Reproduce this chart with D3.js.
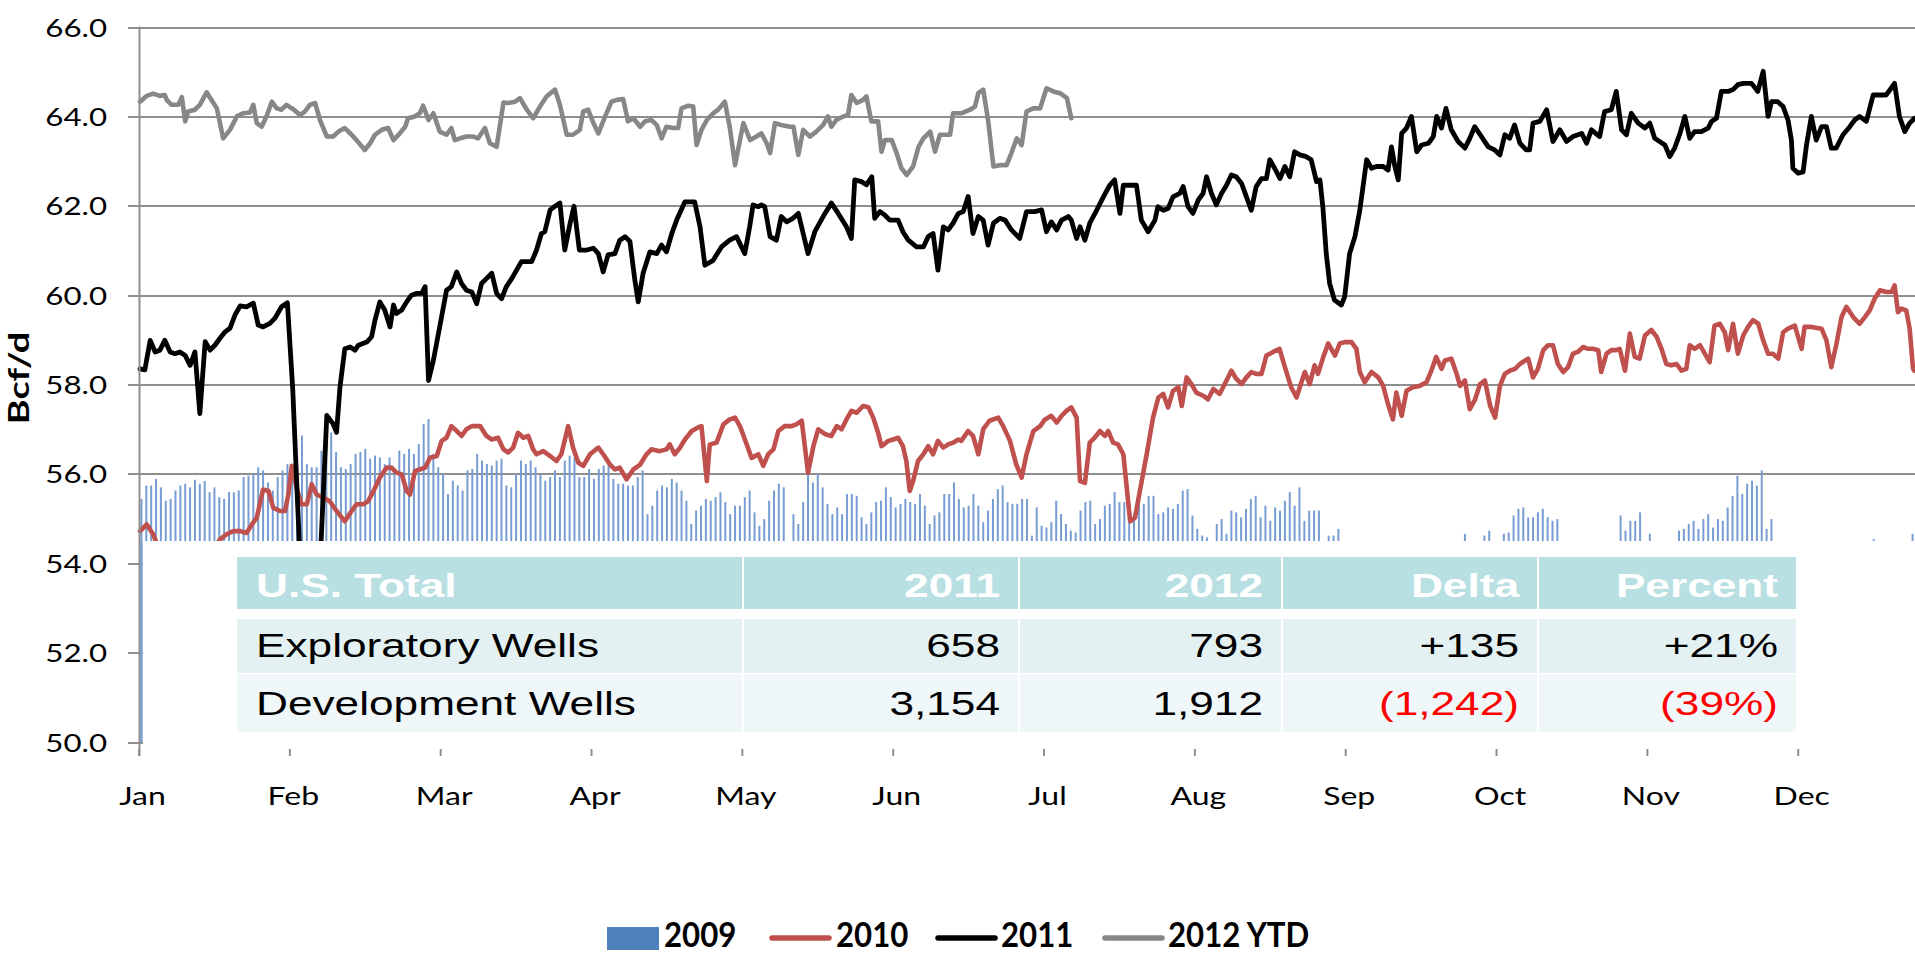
<!DOCTYPE html>
<html>
<head>
<meta charset="utf-8">
<script src="https://cdn.jsdelivr.net/npm/d3@7"></script>
<style>
html,body{margin:0;padding:0;background:#fff;overflow:hidden}
svg{display:block}
</style>
</head>
<body>
<script>
// ---------------- DATA ----------------
const months = ["Jan","Feb","Mar","Apr","May","Jun","Jul","Aug","Sep","Oct","Nov","Dec"];
const monthStartDays = [0,31,62,93,124,155,186,217,248,279,310,341];
const yTickValues = [50,52,54,56,58,60,62,64,66];
const yTickLabels = ["50.0","52.0","54.0","56.0","58.0","60.0","62.0","64.0","66.0"];
const seriesNames = ["2009","2010","2011","2012 YTD"];

// 2009 daily columns (null = no visible column)
const s2009 = [
55.45,55.75,55.75,55.90,55.71,55.41,55.45,55.64,55.75,55.79,
55.71,55.88,55.79,55.85,55.60,55.71,55.49,55.45,55.60,55.60,
55.64,55.94,55.97,56.01,56.16,56.09,55.82,55.64,55.94,56.09,
56.23,56.20,56.09,56.87,56.23,56.16,56.16,56.53,56.91,56.94,
56.50,56.16,56.12,56.23,56.46,56.50,56.57,56.35,56.42,56.38,
56.23,56.38,56.12,56.53,56.46,56.57,56.46,56.68,57.13,57.24,
56.46,56.16,56.01,55.56,55.86,55.75,55.64,56.09,56.12,56.46,
56.31,56.23,56.20,56.31,56.35,55.75,55.71,56.01,56.31,56.23,
56.31,56.16,56.01,55.86,55.94,56.09,55.94,56.31,56.42,56.38,
55.94,55.94,56.12,55.90,56.12,56.20,56.27,55.90,55.79,55.79,
55.75,55.75,55.94,56.09,55.11,55.30,55.64,55.75,55.71,55.90,
55.82,55.64,55.41,54.89,55.19,55.30,55.45,55.41,55.49,55.60,
55.38,55.11,55.30,55.30,55.49,55.64,55.15,54.85,55.00,55.41,
55.64,55.79,55.71,null,55.11,54.89,55.38,56.01,55.82,56.01,
55.71,55.34,55.11,55.26,55.11,55.56,55.56,55.52,55.04,54.89,
55.15,55.38,55.41,55.71,55.49,55.26,55.34,55.45,55.38,55.34,
55.56,55.30,54.89,55.08,55.15,55.56,55.56,55.82,55.45,55.26,
55.30,55.56,55.30,54.93,55.19,55.45,55.67,55.75,55.38,55.34,
55.34,55.45,55.45,54.63,55.26,54.85,54.81,54.93,55.41,55.11,
54.89,54.74,54.70,55.19,55.38,55.41,54.89,55.00,55.30,55.34,
55.60,55.38,55.38,54.96,55.11,55.41,55.34,55.52,55.52,55.11,
55.15,55.26,55.23,55.34,55.64,55.67,55.08,54.78,54.63,54.59,
null,54.89,55.00,54.67,55.19,55.15,55.04,55.23,55.45,55.52,
55.04,55.30,54.96,55.26,55.19,55.41,55.60,55.30,55.71,54.96,
55.19,55.19,55.19,null,54.63,54.63,54.78,null,null,null,
null,null,null,null,null,null,null,null,null,null,
null,null,null,null,null,null,null,null,null,null,
null,null,54.67,null,null,null,54.63,54.74,null,null,
54.67,54.70,55.08,55.23,55.26,55.04,55.04,55.15,55.23,55.04,
54.96,55.00,null,null,null,null,null,null,null,null,
null,null,null,null,55.08,54.74,54.96,54.96,55.15,null,
54.67,null,null,null,null,null,54.74,54.78,54.89,54.96,
54.78,55.00,55.11,54.81,55.00,54.96,55.26,55.52,55.97,55.56,
55.79,55.86,55.75,56.09,54.78,55.00,null,null,null,null,
null,null,null,null,null,null,null,null,null,null,
null,null,null,null,null,null,54.55,null,null,null,
null,null,null,null,54.67
];

// 2010 [day of year, Bcf/d]
const s2010 = [[0.2,54.73],[1.6,54.88],[2.9,54.66],[3.6,54.47],[7,53.9],[13,53.9],[16.6,54.54],[18.0,54.66],[19.4,54.73],[20.8,54.73],[22.1,54.69],[23.2,54.88],[24.2,55.03],[25.5,55.66],[26.6,55.63],[27.6,55.25],[29.0,55.18],[30.0,55.18],[30.7,55.55],[31.4,56.19],[32.4,55.70],[33.4,55.33],[34.5,55.33],[35.5,55.78],[36.5,55.55],[37.9,55.48],[39.2,55.40],[40.6,55.18],[42.3,54.95],[43.7,55.18],[44.7,55.33],[46.1,55.33],[47.1,55.40],[48.2,55.63],[49.5,55.93],[50.9,56.15],[51.9,56.15],[52.9,56.04],[54.0,56.00],[55.0,55.63],[55.7,55.55],[56.7,56.07],[57.7,56.11],[58.8,56.15],[59.8,56.37],[61.2,56.41],[62.2,56.75],[63.2,56.82],[64.2,57.08],[65.3,56.97],[66.3,56.86],[67.3,57.01],[68.4,57.08],[70.1,57.08],[71.4,56.86],[72.5,56.78],[73.8,56.82],[74.9,56.56],[75.9,56.49],[76.9,56.60],[77.9,56.93],[79.0,56.82],[80.0,56.86],[81.0,56.56],[81.7,56.45],[83.1,56.52],[84.5,56.41],[85.8,56.30],[86.8,56.45],[88.2,57.08],[89.2,56.60],[90.3,56.26],[91.3,56.19],[92.7,56.45],[94.4,56.60],[95.4,56.45],[96.8,56.22],[97.8,56.11],[98.8,56.15],[100.2,55.89],[101.6,56.11],[103.0,56.22],[104.3,56.45],[105.3,56.56],[107.0,56.52],[108.4,56.56],[109.1,56.67],[110.1,56.45],[111.2,56.60],[112.2,56.78],[113.6,56.97],[114.9,57.05],[115.6,57.08],[116.7,55.85],[117.3,56.67],[118.7,56.71],[120.1,57.12],[121.4,57.23],[122.5,57.27],[123.5,57.08],[124.9,56.67],[125.9,56.37],[127.3,56.45],[128.3,56.19],[129.3,56.45],[130.4,56.56],[131.4,56.97],[132.7,57.08],[134.1,57.08],[135.1,57.12],[136.2,57.20],[137.5,56.04],[138.6,56.63],[139.6,57.01],[141.0,56.90],[142.3,56.86],[143.4,57.08],[144.4,57.01],[145.4,57.23],[146.4,57.42],[147.5,57.38],[148.8,57.53],[149.9,57.50],[150.9,57.27],[151.9,56.93],[152.6,56.63],[154.0,56.75],[155.0,56.78],[156.0,56.82],[157.0,56.63],[157.7,56.30],[158.4,55.63],[159.1,55.85],[160.1,56.30],[161.2,56.45],[162.2,56.63],[163.2,56.45],[164.2,56.75],[165.3,56.60],[166.3,56.67],[167.3,56.71],[168.4,56.78],[169.0,56.75],[170.4,56.97],[171.4,56.86],[172.5,56.45],[173.5,57.01],[174.8,57.20],[176.6,57.27],[177.6,57.08],[179.0,56.75],[180.3,56.22],[181.4,55.93],[182.4,56.45],[183.8,56.97],[185.2,57.08],[186.2,57.23],[187.5,57.31],[188.6,57.16],[189.6,57.31],[190.6,57.42],[191.6,57.50],[192.7,57.27],[193.4,55.85],[194.4,55.81],[195.4,56.71],[196.4,56.82],[197.5,56.97],[198.5,56.86],[199.2,56.97],[200.2,56.71],[201.2,56.67],[202.3,56.45],[203.0,55.70],[203.7,54.95],[204.7,55.03],[205.7,55.63],[207.1,56.45],[208.4,57.27],[209.5,57.72],[210.5,57.80],[211.5,57.50],[212.5,57.87],[213.6,57.95],[214.3,57.53],[215.3,58.17],[216.3,58.02],[217.3,57.83],[218.7,57.76],[219.7,57.68],[220.8,57.91],[222.1,57.80],[223.5,58.10],[224.5,58.32],[225.5,58.14],[226.6,58.02],[227.6,58.17],[228.6,58.29],[229.6,58.25],[230.7,58.25],[231.7,58.66],[233.1,58.74],[234.4,58.81],[235.5,58.40],[236.8,57.95],[237.9,57.72],[238.9,58.06],[239.6,58.29],[240.6,58.02],[241.6,58.44],[242.3,58.25],[243.4,58.63],[244.4,58.93],[245.8,58.66],[246.8,58.93],[247.8,58.96],[249.2,58.96],[250.2,58.81],[250.9,58.29],[251.9,58.06],[253.3,58.29],[254.7,58.17],[255.7,57.98],[256.7,57.57],[257.7,57.23],[258.4,57.83],[259.5,57.31],[260.5,57.87],[261.8,57.95],[263.2,57.98],[264.6,58.06],[265.6,58.32],[266.6,58.63],[267.7,58.36],[268.4,58.55],[269.7,58.59],[270.8,58.25],[271.5,57.98],[272.5,58.10],[273.5,57.46],[274.6,57.68],[275.6,58.02],[276.6,58.10],[277.7,57.53],[278.7,57.27],[279.7,57.98],[280.7,58.25],[281.7,58.32],[282.8,58.36],[283.8,58.47],[285.5,58.59],[286.5,58.17],[287.5,58.36],[288.6,58.78],[289.6,58.89],[290.6,58.89],[291.6,58.47],[292.7,58.29],[293.7,58.40],[294.7,58.70],[295.7,58.74],[296.8,58.85],[297.8,58.81],[298.8,58.81],[299.9,58.78],[300.5,58.29],[301.6,58.70],[302.6,58.78],[303.6,58.78],[304.3,58.81],[305.4,58.32],[306.4,59.15],[307.4,58.63],[308.4,58.59],[309.5,59.11],[310.8,59.23],[311.9,59.08],[312.9,58.81],[313.9,58.47],[314.9,58.44],[316.0,58.47],[317.0,58.32],[318.0,58.36],[318.7,58.89],[319.7,58.81],[320.8,58.89],[321.8,58.70],[322.8,58.51],[323.8,59.33],[324.9,59.37],[325.9,59.18],[326.6,58.78],[327.6,59.37],[328.6,58.70],[329.7,59.11],[330.7,59.30],[331.7,59.45],[332.8,59.37],[333.8,59.00],[334.8,58.70],[335.8,58.70],[336.9,58.59],[337.9,59.18],[338.9,59.26],[340.3,59.33],[341.7,58.81],[342.3,59.30],[343.7,59.30],[345.8,59.26],[346.8,59.00],[347.8,58.40],[348.8,58.89],[349.9,59.52],[350.9,59.75],[352.3,59.52],[353.6,59.37],[354.7,59.52],[355.7,59.67],[356.7,59.93],[357.8,60.12],[359.1,60.08],[360.2,60.08],[360.8,60.23],[361.5,59.63],[362.2,59.71],[363.2,59.67],[363.9,59.26],[364.6,58.36],[364.9,58.32]];

// 2011 [day of year, Bcf/d]
const s2011 = [[0.2,58.36],[1.2,58.34],[2.3,59.00],[3.3,58.74],[4.3,58.78],[5.3,59.00],[6.4,58.74],[7.4,58.70],[8.4,58.74],[9.5,58.66],[10.5,58.44],[11.5,58.74],[12.5,57.36],[13.6,58.97],[14.6,58.78],[15.6,58.89],[16.6,59.04],[17.7,59.19],[18.7,59.27],[19.7,59.56],[20.8,59.77],[22.1,59.75],[23.5,59.83],[24.5,59.34],[25.5,59.30],[26.9,59.38],[27.9,59.49],[29.3,59.75],[30.5,59.84],[31.6,57.9],[33.2,53.8],[34.5,51.0],[36.0,51.3],[37.3,54.2],[38.6,57.32],[39.9,57.13],[40.6,56.94],[41.3,57.95],[42.3,58.81],[43.4,58.85],[44.4,58.78],[45.1,58.89],[46.8,58.96],[47.8,59.08],[48.5,59.45],[49.5,59.86],[50.5,59.68],[51.6,59.30],[52.3,59.79],[52.9,59.60],[54.0,59.68],[55.0,59.86],[56.0,60.01],[57.1,60.05],[58.1,60.05],[58.8,60.20],[59.5,58.10],[60.5,58.55],[61.8,59.30],[63.2,60.12],[64.2,60.20],[65.3,60.53],[66.3,60.27],[67.3,60.12],[68.4,60.08],[69.4,59.82],[70.4,60.27],[71.4,60.38],[72.5,60.50],[73.5,60.05],[74.5,59.93],[75.5,60.20],[76.6,60.38],[77.6,60.57],[78.6,60.76],[80.7,60.76],[81.7,61.02],[82.7,61.39],[83.4,61.43],[84.5,61.92],[85.5,62.00],[86.5,62.07],[87.5,61.02],[88.6,61.62],[89.4,62.00],[90.5,61.02],[92.0,61.02],[93.4,61.06],[94.4,60.94],[95.4,60.53],[96.4,60.91],[97.8,60.94],[98.8,61.24],[99.9,61.32],[100.9,61.21],[101.9,60.35],[102.6,59.86],[103.6,60.50],[105.0,60.98],[106.4,60.94],[107.4,61.13],[108.4,60.98],[109.5,61.39],[110.5,61.69],[112.2,62.10],[114.2,62.10],[115.3,61.54],[116.3,60.68],[118.0,60.79],[119.7,61.09],[121.4,61.24],[122.8,61.32],[124.5,60.94],[125.5,61.54],[126.2,62.03],[127.3,61.99],[127.9,62.03],[128.6,61.99],[129.7,61.32],[131.0,61.24],[132.0,61.77],[133.1,61.65],[134.4,61.73],[135.5,61.84],[136.5,61.39],[137.5,60.94],[138.9,61.43],[140.6,61.77],[142.3,62.07],[143.7,61.84],[145.4,61.54],[146.4,61.28],[147.1,62.59],[148.5,62.55],[149.5,62.48],[150.6,62.66],[151.2,61.73],[152.3,61.88],[153.3,61.80],[154.3,61.69],[156.0,61.69],[157.0,61.43],[158.1,61.24],[159.8,61.09],[161.2,61.09],[162.2,61.32],[163.2,61.39],[164.2,60.57],[165.3,61.54],[166.3,61.47],[167.3,61.62],[168.4,61.84],[169.4,61.88],[170.4,62.22],[171.4,61.39],[172.5,61.77],[173.5,61.69],[174.5,61.13],[175.6,61.62],[176.9,61.73],[178.0,61.69],[179.3,61.47],[181.0,61.28],[182.4,61.88],[184.1,61.88],[185.5,61.92],[186.5,61.43],[187.5,61.65],[188.6,61.47],[189.6,61.69],[191.0,61.77],[191.6,61.69],[192.7,61.28],[193.4,61.54],[194.4,61.24],[195.4,61.62],[196.8,61.91],[198.2,62.21],[199.5,62.47],[200.5,62.59],[201.6,61.84],[202.3,62.47],[203.6,62.47],[205.0,62.47],[206.0,61.69],[207.4,61.43],[208.8,61.69],[209.4,61.99],[210.5,61.91],[211.5,61.95],[212.5,62.21],[213.9,62.29],[214.6,62.44],[215.6,61.99],[216.6,61.84],[217.7,62.14],[218.7,62.29],[219.4,62.66],[220.4,62.29],[221.4,62.03],[222.5,62.29],[223.5,62.47],[224.5,62.70],[225.5,62.66],[226.6,62.51],[227.6,62.21],[228.6,61.91],[229.6,62.44],[230.7,62.62],[231.7,62.62],[232.4,63.04],[233.4,62.85],[234.5,62.62],[235.5,62.89],[236.5,62.66],[237.5,63.22],[238.6,63.15],[239.9,63.11],[240.9,63.04],[242.0,62.55],[242.7,62.59],[243.3,61.99],[244.0,60.94],[244.7,60.27],[245.7,59.90],[247.1,59.79],[247.8,59.98],[248.8,60.94],[249.9,61.32],[250.9,61.91],[252.3,63.04],[253.3,62.85],[254.3,62.89],[255.7,62.89],[256.7,62.81],[257.4,63.33],[258.1,62.89],[258.8,62.59],[259.5,63.63],[260.5,63.75],[261.5,64.01],[262.6,63.22],[263.6,63.37],[265.0,63.41],[266.0,63.56],[266.7,64.01],[267.7,63.75],[268.6,64.19],[269.7,63.71],[271.1,63.45],[272.5,63.30],[273.5,63.52],[274.5,63.78],[275.9,63.56],[277.3,63.33],[278.6,63.26],[279.7,63.15],[280.7,63.60],[281.7,63.52],[282.7,63.82],[283.8,63.41],[285.1,63.26],[285.8,63.26],[286.5,63.86],[287.9,63.90],[289.3,64.16],[290.6,63.45],[292.0,63.71],[293.4,63.45],[294.7,63.56],[296.5,63.63],[297.5,63.41],[298.5,63.71],[300.2,63.56],[301.2,64.12],[302.6,64.16],[303.6,64.57],[304.7,63.71],[305.7,63.60],[306.7,64.08],[308.1,63.86],[309.5,63.75],[310.5,63.86],[311.5,63.52],[312.5,63.45],[313.6,63.37],[314.6,63.11],[315.6,63.30],[316.7,63.63],[317.7,64.01],[318.7,63.52],[319.7,63.67],[321.1,63.67],[322.5,63.75],[323.2,63.90],[324.2,63.97],[325.2,64.57],[326.6,64.57],[327.6,64.61],[328.6,64.72],[329.7,64.75],[331.4,64.75],[332.7,64.57],[333.8,65.02],[334.8,64.01],[335.5,64.34],[336.8,64.34],[337.9,64.23],[338.9,63.93],[339.6,63.48],[339.9,62.85],[341.0,62.74],[342.0,62.77],[342.7,63.37],[343.7,64.01],[344.7,63.48],[345.8,63.78],[346.8,63.78],[347.8,63.30],[348.8,63.30],[350.2,63.60],[351.6,63.78],[352.6,63.93],[353.6,64.01],[355.0,63.90],[356.4,64.49],[357.7,64.49],[359.1,64.49],[360.8,64.75],[361.8,64.01],[362.9,63.67],[363.9,63.86],[364.9,63.97]];

// 2012 YTD [day of year, Bcf/d]
const s2012 = [[0.2,64.34],[1.6,64.47],[2.9,64.52],[4.3,64.47],[5.3,64.49],[5.7,64.38],[6.7,64.27],[8.1,64.27],[8.8,64.44],[9.5,63.90],[10.1,64.12],[11.5,64.16],[12.5,64.27],[13.9,64.55],[14.9,64.38],[16.0,64.19],[17.3,63.52],[18.7,63.71],[20.1,64.01],[21.4,64.08],[22.8,64.10],[23.5,64.27],[24.2,63.86],[25.2,63.78],[26.2,64.01],[27.3,64.34],[28.3,64.19],[29.3,64.16],[30.3,64.27],[31.7,64.17],[33.1,64.04],[34.1,64.12],[35.1,64.27],[36.2,64.31],[37.2,63.93],[38.6,63.56],[39.9,63.56],[41.0,63.67],[42.3,63.75],[43.7,63.60],[44.7,63.48],[46.4,63.26],[47.5,63.41],[48.5,63.60],[49.9,63.71],[51.2,63.75],[52.3,63.48],[53.6,63.63],[54.7,63.78],[55.3,63.97],[56.7,64.01],[57.7,64.08],[58.4,64.25],[59.5,63.93],[60.5,64.08],[61.8,63.67],[63.2,63.60],[64.2,63.75],[64.9,63.48],[66.0,63.52],[67.3,63.56],[68.7,63.56],[69.7,63.52],[71.1,63.75],[72.1,63.41],[73.5,63.33],[74.9,64.32],[75.9,64.31],[77.3,64.34],[78.3,64.42],[79.7,64.16],[81.0,63.97],[82.4,64.23],[83.8,64.46],[85.5,64.61],[86.5,64.27],[87.9,63.60],[89.2,63.60],[90.6,63.71],[91.3,64.12],[92.3,64.16],[93.4,63.86],[94.4,63.63],[95.8,64.01],[97.1,64.34],[98.2,64.38],[99.5,64.40],[100.5,63.90],[101.6,63.97],[103.0,63.78],[104.0,63.90],[105.3,63.93],[106.4,63.82],[107.4,63.52],[108.4,63.78],[109.8,63.75],[110.8,63.75],[111.5,64.19],[112.9,64.25],[113.9,64.23],[114.6,63.37],[115.6,63.71],[116.7,63.93],[118.0,64.08],[119.0,64.16],[120.4,64.34],[121.4,63.78],[122.5,62.92],[124.2,63.86],[125.6,63.48],[126.9,63.56],[127.9,63.63],[129.0,63.41],[129.7,63.19],[130.7,63.86],[132.0,63.82],[133.8,63.78],[134.5,63.78],[135.5,63.15],[136.5,63.71],[137.9,63.56],[139.2,63.67],[140.6,63.82],[141.6,64.01],[142.3,63.78],[143.3,63.93],[144.7,64.01],[145.7,64.04],[146.4,64.49],[147.5,64.31],[148.8,64.38],[149.5,64.46],[150.5,63.90],[151.9,63.90],[152.6,63.22],[153.3,63.48],[154.7,63.48],[155.7,63.19],[156.7,62.85],[157.8,62.70],[159.1,62.89],[160.2,63.33],[161.2,63.52],[162.6,63.67],[163.6,63.22],[164.6,63.60],[166.0,63.60],[166.7,63.60],[167.3,64.08],[169.0,64.08],[170.8,64.16],[171.8,64.23],[172.5,64.53],[173.5,64.61],[174.5,63.93],[175.6,62.89],[176.9,62.92],[178.3,62.92],[179.3,63.19],[180.4,63.52],[181.4,63.37],[182.4,64.12],[183.8,64.19],[185.2,64.19],[186.5,64.64],[187.9,64.57],[189.3,64.53],[190.7,64.42],[191.6,63.97]];

// overlay table
const tableHeader = ["U.S. Total","2011","2012","Delta","Percent"];
const tableRow1 = ["Exploratory Wells","658","793","+135","+21%"];
const tableRow2 = ["Development Wells","3,154","1,912","(1,242)","(39%)"];

// ---------------- CHART ----------------
const W = 1915, H = 955;
const LABEL_FONT = "Lato, 'Open Sans', sans-serif";
const TABLE_FONT = "'Liberation Sans', Arial, sans-serif";

const svg = d3.select("body").append("svg").attr("width", W).attr("height", H);
svg.append("rect").attr("width", W).attr("height", H).attr("fill", "#fff");

const x = d3.scaleLinear().domain([0, 365]).range([139, 1915]);
const y = d3.scaleLinear().domain([50, 66]).range([742.5, 27.5]);

// gridlines (with outward tick stubs)
svg.append("g").selectAll("line").data(yTickValues).join("line")
  .attr("x1", 128).attr("x2", W)
  .attr("y1", d => Math.round(y(d))).attr("y2", d => Math.round(y(d)))
  .attr("stroke", "#8f8f8f").attr("stroke-width", 2);

// 2009 columns
const barData = s2009.map((v, i) => ({ i, v })).filter(d => d.v !== null);
svg.append("g").selectAll("rect").data(barData).join("rect")
  .attr("x", d => x(d.i + 0.5) - 1)
  .attr("width", 2)
  .attr("y", d => y(d.v))
  .attr("height", d => y(50) - y(d.v))
  .attr("fill", "#779dd3");

// lines
const line = d3.line().x(d => x(d[0])).y(d => y(d[1])).curve(d3.curveLinear);
const lineSeries = [
  { data: s2010, color: "#c0504d", w: 4.6 },
  { data: s2011, color: "#000000", w: 4.8 },
  { data: s2012, color: "#878787", w: 4.6 }
];
svg.append("g").selectAll("path").data(lineSeries).join("path")
  .attr("d", d => line(d.data))
  .attr("fill", "none")
  .attr("stroke", d => d.color)
  .attr("stroke-width", d => d.w)
  .attr("stroke-linejoin", "round")
  .attr("stroke-linecap", "round");

// white overlay panel that hosts the table
svg.append("rect").attr("x", 143).attr("y", 541).attr("width", W - 143).attr("height", 205).attr("fill", "#fff");

// y axis line
svg.append("line").attr("x1", 139.5).attr("x2", 139.5).attr("y1", y(66) - 1).attr("y2", 756)
  .attr("stroke", "#8f8f8f").attr("stroke-width", 2);
// first 2009 column is visible beside the axis below the panel
svg.append("rect").attr("x", x(0.5) - 1).attr("width", 2).attr("y", 541).attr("height", y(50) - 541).attr("fill", "#779dd3");

// y tick labels
svg.append("g").selectAll("text").data(yTickValues).join("text")
  .attr("transform", d => `translate(107,${y(d) + 9}) scale(1.25,1)`)
  .attr("text-anchor", "end")
  .attr("font-family", LABEL_FONT).attr("font-size", 25).attr("fill", "#000")
  .text((d, i) => yTickLabels[i]);

// y axis title (stretched along its length like the reference)
svg.append("text")
  .attr("transform", "translate(29,378) rotate(-90) scale(1.35,1)")
  .attr("text-anchor", "middle")
  .attr("font-family", LABEL_FONT).attr("font-weight", "bold").attr("font-size", 28).attr("fill", "#000")
  .text("Bcf/d");

// x ticks and month labels
svg.append("g").selectAll("line").data(monthStartDays).join("line")
  .attr("x1", d => x(d)).attr("x2", d => x(d)).attr("y1", 749).attr("y2", 756)
  .attr("stroke", "#8f8f8f").attr("stroke-width", 2);
svg.append("g").selectAll("text").data(monthStartDays).join("text")
  .attr("transform", d => `translate(${x(d) + 3.5},805) scale(1.28,1)`)
  .attr("text-anchor", "middle")
  .attr("font-family", LABEL_FONT).attr("font-size", 25).attr("fill", "#000")
  .text((d, i) => months[i]);

// ---------------- TABLE ----------------
const colX = [237, 743, 1019, 1282, 1538, 1797];
const rows = [
  { cells: tableHeader, y0: 557, y1: 609, fill: "#b8dfe2", base: 597, header: true },
  { cells: tableRow1, y0: 619, y1: 673, fill: "#e4f1f2", base: 657, header: false },
  { cells: tableRow2, y0: 674.5, y1: 732, fill: "#f0f7f9", base: 715, header: false }
];
const tg = svg.append("g");
rows.forEach(r => {
  r.cells.forEach((txt, c) => {
    tg.append("rect")
      .attr("x", colX[c] + (c === 0 ? 0 : 1)).attr("y", r.y0)
      .attr("width", colX[c + 1] - colX[c] - (c === 0 ? 1 : 2)).attr("height", r.y1 - r.y0)
      .attr("fill", r.fill);
    const isNeg = !r.header && txt.startsWith("(");
    const tx = c === 0 ? 256 : colX[c + 1] - 19;
    tg.append("text")
      .attr("transform", `translate(${tx},${r.base}) scale(1.3,1)`)
      .attr("text-anchor", c === 0 ? "start" : "end")
      .attr("font-family", TABLE_FONT).attr("font-size", 34)
      .attr("font-weight", r.header ? "bold" : "normal")
      .attr("fill", r.header ? "#ffffff" : (isNeg ? "#ff0000" : "#000000"))
      .text(txt);
  });
});

// ---------------- LEGEND ----------------
const lg = svg.append("g").attr("font-family", LABEL_FONT).attr("font-weight", "bold").attr("font-size", 30);
const legendItems = [
  { name: seriesNames[0], type: "box", color: "#4f81bd", sx: 607, tx: 664 },
  { name: seriesNames[1], type: "line", color: "#c0504d", sx: 772, tx: 836 },
  { name: seriesNames[2], type: "line", color: "#000000", sx: 938, tx: 1001 },
  { name: seriesNames[3], type: "line", color: "#878787", sx: 1105, tx: 1168 }
];
legendItems.forEach(it => {
  if (it.type === "box") {
    lg.append("rect").attr("x", it.sx).attr("y", 927).attr("width", 52).attr("height", 23).attr("fill", it.color);
  } else {
    lg.append("line").attr("x1", it.sx).attr("x2", it.sx + 57).attr("y1", 938).attr("y2", 938)
      .attr("stroke", it.color).attr("stroke-width", 5.5).attr("stroke-linecap", "round");
  }
  lg.append("text").attr("transform", `translate(${it.tx},947) scale(1.04,1.12)`).attr("fill", "#000").text(it.name);
});
</script>
</body>
</html>
